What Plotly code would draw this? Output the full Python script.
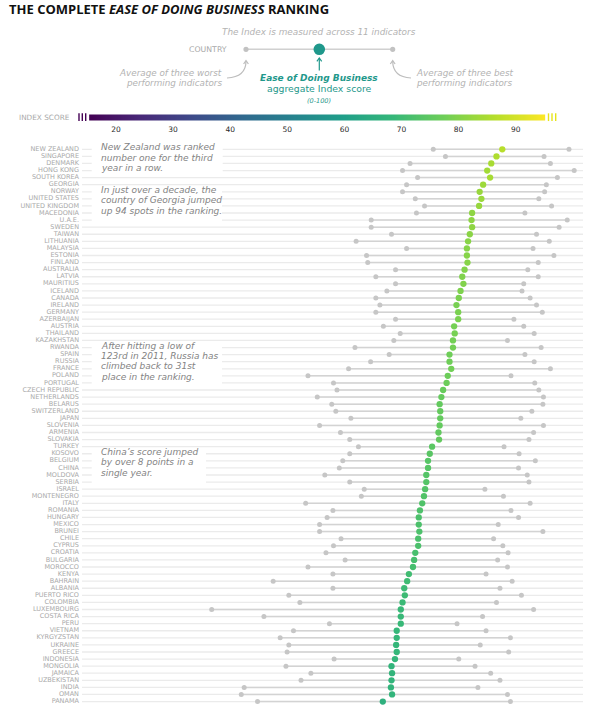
import plotly.graph_objects as go
import numpy as np

countries = ["NEW ZEALAND", "SINGAPORE", "DENMARK", "HONG KONG", "SOUTH KOREA", "GEORGIA", "NORWAY",
             "UNITED STATES", "UNITED KINGDOM", "MACEDONIA", "U.A.E.", "SWEDEN", "TAIWAN", "LITHUANIA",
             "MALAYSIA", "ESTONIA", "FINLAND", "AUSTRALIA", "LATVIA", "MAURITIUS", "ICELAND", "CANADA",
             "IRELAND", "GERMANY", "AZERBAIJAN", "AUSTRIA", "THAILAND", "KAZAKHSTAN", "RWANDA", "SPAIN",
             "RUSSIA", "FRANCE", "POLAND", "PORTUGAL", "CZECH REPUBLIC", "NETHERLANDS", "BELARUS",
             "SWITZERLAND", "JAPAN", "SLOVENIA", "ARMENIA", "SLOVAKIA", "TURKEY", "KOSOVO", "BELGIUM",
             "CHINA", "MOLDOVA", "SERBIA", "ISRAEL", "MONTENEGRO", "ITALY", "ROMANIA", "HUNGARY", "MEXICO",
             "BRUNEI", "CHILE", "CYPRUS", "CROATIA", "BULGARIA", "MOROCCO", "KENYA", "BAHRAIN", "ALBANIA",
             "PUERTO RICO", "COLOMBIA", "LUXEMBOURG", "COSTA RICA", "PERU", "VIETNAM", "KYRGYZSTAN",
             "UKRAINE", "GREECE", "INDONESIA", "MONGOLIA", "JAMAICA", "UZBEKISTAN", "INDIA", "OMAN", "PANAMA"]

index_score = [86.6, 85.6, 84.7, 84.0, 84.5, 83.3, 82.7, 83.0, 82.6, 81.4,
               81.3, 81.4, 81.0, 80.7, 80.5, 80.5, 80.6, 80.1, 79.7, 79.9,
               79.4, 79.1, 78.7, 79.0, 79.0, 78.3, 78.4, 78.1, 78.1, 77.5,
               77.5, 77.8, 77.2, 77.0, 76.4, 76.1, 75.8, 75.9, 75.9, 75.8,
               75.6, 75.7, 74.5, 74.1, 73.8, 73.8, 73.5, 73.5, 73.3, 73.1,
               72.8, 72.4, 72.2, 72.2, 72.3, 72.1, 72.1, 71.6, 71.4, 71.2,
               70.5, 70.2, 69.7, 69.8, 69.4, 69.1, 69.1, 69.1, 68.4, 68.4,
               68.3, 68.4, 68.1, 67.5, 67.6, 67.5, 67.4, 67.6, 66.0]

worst3_avg = [74.7, 76.8, 70.7, 69.4, 72.0, 70.1, 69.4, 71.6, 73.2, 71.8,
              64.0, 64.0, 67.5, 61.4, 70.1, 63.2, 63.4, 68.2, 64.8, 68.2,
              66.7, 64.8, 65.5, 64.8, 68.2, 66.1, 69.0, 67.9, 61.2, 67.1,
              63.9, 60.1, 53.1, 57.5, 58.1, 54.7, 57.2, 57.9, 60.5, 55.1,
              58.7, 60.3, 61.8, 60.3, 59.1, 58.5, 56.0, 60.3, 62.8, 62.3,
              52.7, 57.4, 56.4, 55.1, 55.1, 58.8, 57.5, 56.2, 59.5, 53.1,
              57.4, 47.1, 57.4, 49.8, 51.7, 36.5, 45.5, 56.8, 50.6, 48.3,
              49.8, 49.5, 57.6, 49.3, 53.6, 51.9, 42.1, 41.6, 44.4]

best3_avg = [98.1, 93.8, 94.9, 99.0, 96.1, 94.2, 93.9, 92.9, 95.1, 90.5,
             97.8, 96.4, 92.5, 94.7, 91.9, 95.5, 92.8, 91.0, 92.8, 90.3,
             90.0, 91.4, 92.5, 93.5, 88.6, 90.3, 92.1, 87.5, 93.3, 90.5,
             92.1, 94.9, 88.1, 92.2, 92.9, 93.7, 93.6, 91.7, 89.8, 93.7,
             92.0, 91.2, 86.9, 89.5, 92.3, 89.4, 90.9, 91.2, 83.6, 86.8,
             91.4, 88.1, 89.4, 85.9, 93.6, 85.1, 86.7, 87.6, 85.8, 87.5,
             83.8, 88.3, 86.2, 89.9, 85.6, 92.0, 83.2, 78.8, 83.8, 88.0,
             82.8, 87.7, 79.1, 81.9, 84.6, 86.2, 82.4, 87.5, 88.0]

colorbar_ticks = [20, 30, 40, 50, 60, 70, 80, 90]
colorbar_min, colorbar_max = 15.3, 95.2

notes = [
    (1, 4, ["New Zealand was ranked", "number one for the third", "year in a row."], 222.7),
    (7, 11, ["In just over a decade, the", "country of Georgia jumped", "up 94 spots in the ranking."], 222.0),
    (29, 34, ["After hitting a low of", "123rd in 2011, Russia has", "climbed back to 31st", "place in the ranking."], 222.0),
    (44, 48, ["China’s score jumped", "by over 8 points in a", "single year."], 206.0),
]

# ---------- geometry helpers (layout only) ----------
W, H = 590, 705
ML, MR = 0, 5
PX_PER_UNIT = 5.8
ROW0, ROWSTEP = 149.3, 7.08


def px2x(px):
    return px / PX_PER_UNIT


def py2y(py):
    return (py - ROW0) / ROWSTEP + 1


def cbx(px):  # colorbar axis (x2)
    return 20 + (px - 116) / 5.71


ranks = list(range(1, len(countries) + 1))
GREY_TXT = "#a9a9a9"
FONT = "DejaVu Sans"

fig = go.Figure()

# row guide lines
gx, gy = [], []
for r in ranks:
    gx += [px2x(82), px2x(583), None]
    gy += [r, r, None]
fig.add_trace(go.Scatter(x=gx, y=gy, mode="lines", line=dict(color="#ebebeb", width=1.3),
                         hoverinfo="skip", showlegend=False))

# range segments
sx, sy = [], []
for r, lo, hi in zip(ranks, worst3_avg, best3_avg):
    sx += [lo, hi, None]
    sy += [r, r, None]
fig.add_trace(go.Scatter(x=sx, y=sy, mode="lines", line=dict(color="#d3d3d3", width=1.5),
                         hoverinfo="skip", showlegend=False))

# worst / best dots
fig.add_trace(go.Scatter(x=worst3_avg + best3_avg, y=ranks + ranks, mode="markers",
                         marker=dict(size=5, color="#c6c6c6"), showlegend=False,
                         hoverinfo="skip"))

# index score dots
fig.add_trace(go.Scatter(x=index_score, y=ranks, mode="markers",
                         marker=dict(size=6.3, color=index_score, colorscale="Viridis",
                                     cmin=colorbar_min, cmax=colorbar_max),
                         text=countries, hovertemplate="%{text}: %{x}<extra></extra>",
                         showlegend=False))

# country labels
fig.add_trace(go.Scatter(x=[px2x(79)] * len(ranks), y=ranks, mode="text", text=countries,
                         textposition="middle left",
                         textfont=dict(family=FONT, size=6.5, color=GREY_TXT),
                         hoverinfo="skip", showlegend=False))

# colour bar (x2)
edges = np.linspace(colorbar_min, colorbar_max, 401)
centers = (edges[:-1] + edges[1:]) / 2
fig.add_trace(go.Heatmap(x=edges, y=[py2y(114.5), py2y(120)], z=[centers],
                         colorscale="Viridis", zmin=colorbar_min, zmax=colorbar_max,
                         showscale=False, hoverinfo="skip", xaxis="x2"))
fig.add_trace(go.Scatter(x=[cbx(79), cbx(82.3), cbx(85.7)], y=[py2y(117.2)] * 3, mode="markers",
                         marker=dict(symbol="line-ns", size=5.5, line=dict(width=1.4, color="#440154")),
                         xaxis="x2", hoverinfo="skip", showlegend=False))
fig.add_trace(go.Scatter(x=[cbx(548.5), cbx(552), cbx(555.7)], y=[py2y(117.2)] * 3, mode="markers",
                         marker=dict(symbol="line-ns", size=5.5, line=dict(width=1.4, color="#e6e419")),
                         xaxis="x2", hoverinfo="skip", showlegend=False))
fig.add_trace(go.Scatter(x=colorbar_ticks, y=[py2y(130)] * len(colorbar_ticks), mode="text",
                         text=[str(t) for t in colorbar_ticks],
                         textfont=dict(family=FONT, size=7.5, color="#2a2a2a"),
                         xaxis="x2", hoverinfo="skip", showlegend=False))

shapes = []
annotations = []

# white boxes behind notes + note text
for r0, r1, lines, xr in notes:
    top = ROW0 + (r0 - 1) * ROWSTEP - 4.2
    bot = ROW0 + (r1 - 1) * ROWSTEP + 3.8
    shapes.append(dict(type="rect", xref="x", yref="y", x0=px2x(91.7), x1=px2x(xr),
                       y0=py2y(top), y1=py2y(bot), fillcolor="white", line=dict(width=0),
                       layer="above"))
    ytext0 = top + 2.3
    for i, ln in enumerate(lines):
        annotations.append(dict(x=px2x(99), y=py2y(ytext0 + i * 10.4), xref="x", yref="y",
                                text=ln, showarrow=False, xanchor="left", yanchor="middle",
                                font=dict(family=FONT, size=9, color="#838383", style="italic")))

# header key
TEAL = "#1f988b"
KEY_Y = 49.3
shapes.append(dict(type="line", xref="x", yref="y", x0=px2x(246), x1=px2x(392.7),
                   y0=py2y(KEY_Y), y1=py2y(KEY_Y), line=dict(color="#d0d0d0", width=1.5)))
for cx, rad, col in [(246, 2.6, "#c2c2c2"), (392.7, 2.6, "#c2c2c2"), (319.3, 5.8, TEAL)]:
    shapes.append(dict(type="circle", xref="x", yref="y", x0=px2x(cx - rad), x1=px2x(cx + rad),
                       y0=py2y(KEY_Y - rad), y1=py2y(KEY_Y + rad), fillcolor=col,
                       line=dict(width=0)))


def path(pts):
    s = ""
    for i, (a, b) in enumerate(pts):
        s += ("M" if i == 0 else "L") + f"{px2x(a):.4f},{py2y(b):.4f} "
    return s


def qpath(p0, c, p1):
    return (f"M{px2x(p0[0]):.4f},{py2y(p0[1]):.4f} Q{px2x(c[0]):.4f},{py2y(c[1]):.4f} "
            f"{px2x(p1[0]):.4f},{py2y(p1[1]):.4f}")


shapes.append(dict(type="path", xref="x", yref="y", path=path([(319.3, 70.5), (319.3, 58.3)]),
                   line=dict(color=TEAL, width=1.2)))
shapes.append(dict(type="path", xref="x", yref="y", path=path([(316.9, 61.3), (319.3, 58.0), (321.7, 61.3)]),
                   line=dict(color=TEAL, width=1.2)))
shapes.append(dict(type="path", xref="x", yref="y", path=qpath((227, 78), (246, 77), (246, 61)),
                   line=dict(color="#bdbdbd", width=1.2)))
shapes.append(dict(type="path", xref="x", yref="y", path=path([(243.6, 64), (246, 60.6), (248.4, 64)]),
                   line=dict(color="#bdbdbd", width=1.2)))
shapes.append(dict(type="path", xref="x", yref="y", path=qpath((411, 78), (392.7, 77), (392.7, 61)),
                   line=dict(color="#bdbdbd", width=1.2)))
shapes.append(dict(type="path", xref="x", yref="y", path=path([(390.3, 64), (392.7, 60.6), (395.1, 64)]),
                   line=dict(color="#bdbdbd", width=1.2)))


def txt(px, py, text, anchor="center", size=8, color="#b3b3b3", style="normal", weight="normal",
        family=FONT):
    annotations.append(dict(x=px2x(px), y=py2y(py), xref="x", yref="y", text=text, showarrow=False,
                            xanchor=anchor, yanchor="middle",
                            font=dict(family=family, size=size, color=color, style=style,
                                      weight=weight)))


txt(6.5, 9, "THE COMPLETE <i>EASE OF DOING BUSINESS</i> RANKING", anchor="left", size=13,
    color="#111111", weight="bold", family="Open Sans")
txt(319.3, 32, "The Index is measured across 11 indicators", size=8.9, style="italic")
txt(228.5, 49.5, "COUNTRY", anchor="right", size=7.8, color="#a9a9a9")
txt(223.5, 72.8, "Average of three worst", anchor="right", size=8.8, style="italic")
txt(223.5, 83.2, "performing indicators", anchor="right", size=8.8, style="italic")
txt(414, 72.8, "Average of three best", anchor="left", size=8.8, style="italic")
txt(414, 83.2, "performing indicators", anchor="left", size=8.8, style="italic")
txt(319.3, 77.8, "Ease of Doing Business", size=9, color=TEAL, style="italic", weight="bold")
txt(319.3, 88.6, "aggregate Index score", size=9.3, color=TEAL)
txt(319.3, 100.6, "(0-100)", size=6.5, color=TEAL, style="italic")
txt(16.5, 117.5, "INDEX SCORE", anchor="left", size=7.3, color="#a9a9a9")

fig.update_layout(
    width=W, height=H,
    margin=dict(l=ML, r=MR, t=0, b=0),
    paper_bgcolor="white", plot_bgcolor="white",
    xaxis=dict(range=[0, (W - ML - MR) / PX_PER_UNIT], visible=False, fixedrange=True),
    xaxis2=dict(range=[cbx(0), cbx(W - ML - MR)], overlaying="x", visible=False, fixedrange=True),
    yaxis=dict(range=[py2y(H), py2y(0)], visible=False, fixedrange=True),
    shapes=shapes,
    annotations=annotations,
    showlegend=False,
)

fig.write_html("out.html", config={"displayModeBar": False},
               post_script="document.body.style.margin='0';document.body.style.overflow='hidden';")
